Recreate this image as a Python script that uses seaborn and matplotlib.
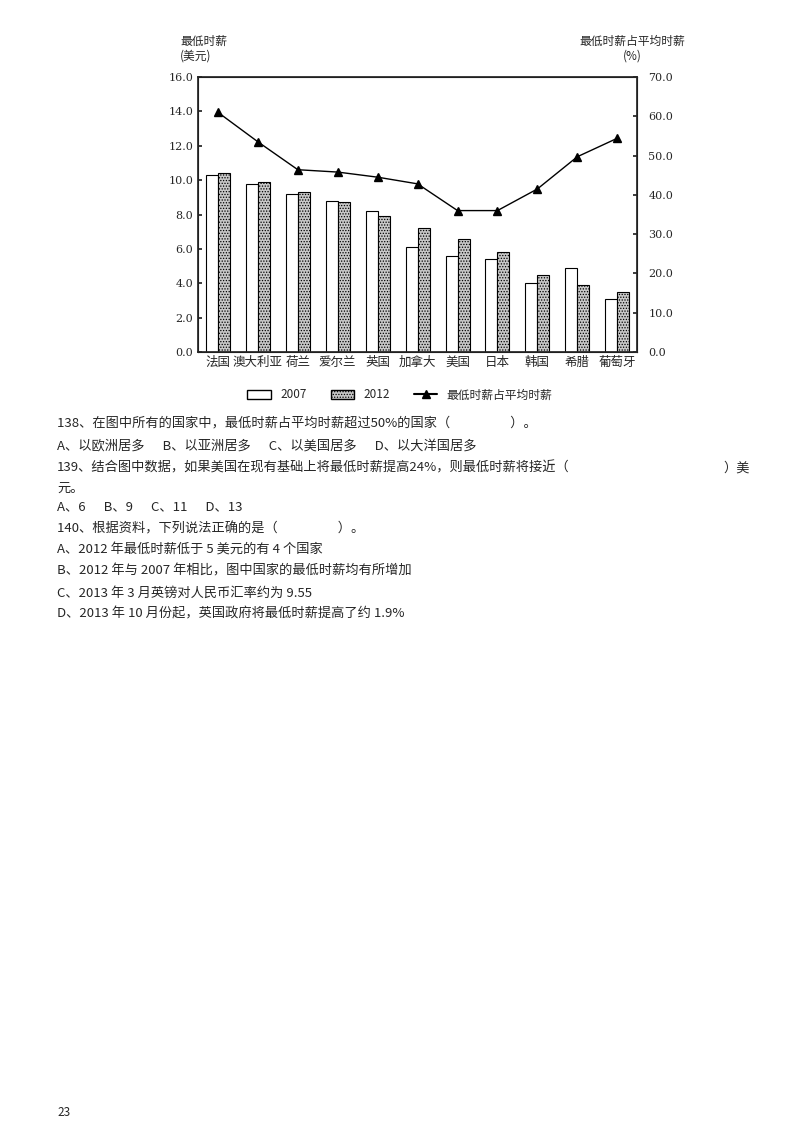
import matplotlib
matplotlib.use("Agg")
import matplotlib.pyplot as plt
import seaborn as sns
import pandas as pd

sns.set_theme(style="white")
plt.rcParams['font.family'] = ['Noto Sans CJK SC', 'DejaVu Sans']
plt.rcParams['hatch.linewidth'] = 0.6

countries = ["法国", "澳大利亚", "荷兰", "爱尔兰", "英国", "加拿大", "美国", "日本", "韩国", "希腊", "葡萄牙"]
wage_2007 = [10.3, 9.8, 9.2, 8.8, 8.2, 6.1, 5.6, 5.4, 4.0, 4.9, 3.1]
wage_2012 = [10.4, 9.9, 9.3, 8.7, 7.9, 7.2, 6.6, 5.8, 4.5, 3.9, 3.5]
ratio = [61.0, 53.5, 46.4, 45.8, 44.5, 42.8, 36.0, 36.0, 41.5, 49.7, 54.4]
left_ticks = [0, 2, 4, 6, 8, 10, 12, 14, 16]
right_ticks = [0, 10, 20, 30, 40, 50, 60, 70]

df = pd.DataFrame({"country": countries * 2,
                   "wage": wage_2007 + wage_2012,
                   "year": ["2007"] * len(countries) + ["2012"] * len(countries)})

fig = plt.figure(figsize=(8, 11.32), dpi=100)
ax = fig.add_axes([0.2475, 0.689, 0.549, 0.243])
sns.barplot(data=df, x="country", y="wage", hue="year", order=countries,
            palette={"2007": "white", "2012": "#c8c8c8"}, edgecolor="black",
            linewidth=0.8, width=0.6, gap=0.0, ax=ax, legend=False)
for p in ax.patches[len(countries):2 * len(countries)]:
    p.set_hatch("......")
ax.set_ylim(0, 16)
ax.set_yticks(left_ticks)
ax.set_yticklabels([f"{t:.1f}" for t in left_ticks], fontsize=8, family='DejaVu Serif')
ax.set_xlabel("")
ax.set_ylabel("")
ax.tick_params(axis='x', labelsize=9, length=0, pad=3)
ax.tick_params(axis='y', length=3, direction='in', left=True)
ax.set_xlim(-0.5, len(countries) - 0.5)
for s in ax.spines.values():
    s.set_color("black"); s.set_linewidth(0.8)

ax2 = ax.twinx()
ax2.plot(range(len(countries)), ratio, color="black", marker="^", markersize=6, linewidth=1)
ax2.set_ylim(0, 70)
ax2.set_yticks(right_ticks)
ax2.set_yticklabels([f"{t:.1f}" for t in right_ticks], fontsize=8, family='DejaVu Serif')
ax2.tick_params(axis='y', length=3, direction='in', right=True, pad=8)
ax2.grid(False)

fig.text(0.225, 0.945, "最低时薪\n(美元)", fontsize=8.5, ha='left', va='bottom', linespacing=1.1)
fig.text(0.79, 0.945, "最低时薪占平均时薪\n(%)", fontsize=8.5, ha='center', va='bottom', linespacing=1.1)

# legend
from matplotlib.patches import Patch
from matplotlib.lines import Line2D
handles = [Patch(facecolor="white", edgecolor="black"),
           Patch(facecolor="#c8c8c8", edgecolor="black", hatch="......"),
           Line2D([0], [0], color="black", marker="^", markersize=6)]
fig.legend(handles, ["2007", "2012", "最低时薪占平均时薪"], loc="center",
           bbox_to_anchor=(0.5, 1 - 395 / 1132), ncol=3, frameon=False, fontsize=8.5,
           handlelength=2, columnspacing=2)

lines = [
    (423, "138、在图中所有的国家中，最低时薪占平均时薪超过50%的国家（                    ）。"),
    (446, "A、以欧洲居多      B、以亚洲居多      C、以美国居多      D、以大洋国居多"),
    (468, "139、结合图中数据，如果美国在现有基础上将最低时薪提高24%，则最低时薪将接近（"),
    (488, "元。"),
    (507, "A、6      B、9      C、11      D、13"),
    (529, "140、根据资料，下列说法正确的是（                    ）。"),
    (550, "A、2012 年最低时薪低于 5 美元的有 4 个国家"),
    (571, "B、2012 年与 2007 年相比，图中国家的最低时薪均有所增加"),
    (593, "C、2013 年 3 月英镑对人民币汇率约为 9.55"),
    (614, "D、2013 年 10 月份起，英国政府将最低时薪提高了约 1.9%"),
]
for y, t in lines:
    fig.text(57 / 800, 1 - y / 1132, t, fontsize=9.5, ha='left', va='center')
fig.text(723 / 800, 1 - 468 / 1132, "）美", fontsize=9.5, ha='left', va='center')
fig.text(57 / 800, 1 - 1112 / 1132, "23", fontsize=8.5, ha='left', va='center')

fig.savefig("out.png", dpi=100)
